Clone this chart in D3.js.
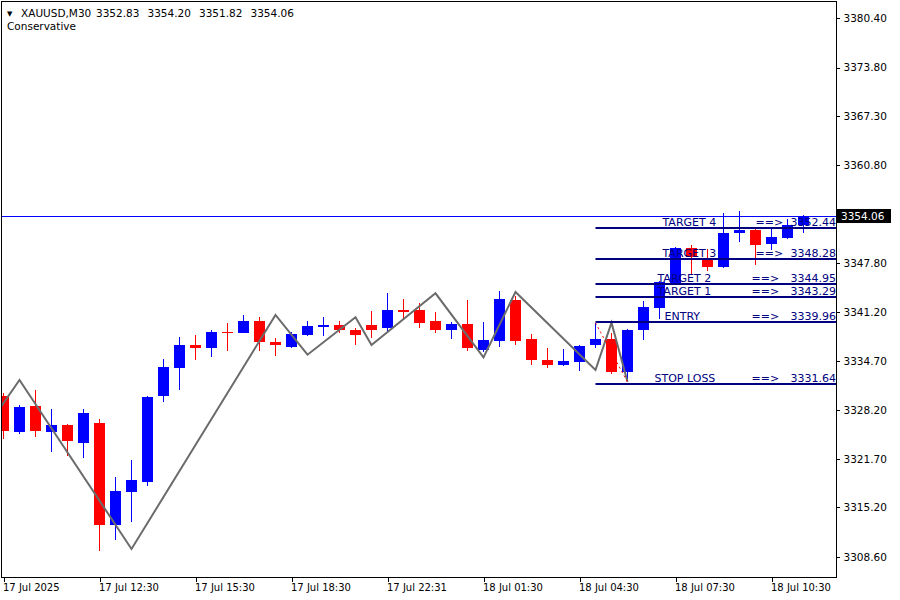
<!DOCTYPE html>
<html>
<head>
<meta charset="utf-8">
<script src="https://cdn.jsdelivr.net/npm/d3@7/dist/d3.min.js"></script>
<style>
  html, body { margin: 0; padding: 0; background: #ffffff; }
  svg { display: block; }
</style>
</head>
<body>
<svg id="chart" width="900" height="600"></svg>
<script>
// ---------------- DATA ----------------
const opens  = [3330.1,3325.3,3328.7,3325.3,3326.2,3323.8,3326.5,3312.8,3317.2,3318.6,
                3330.1,3333.8,3336.8,3336.5,3338.6,3338.5,3340.0,3337.2,3336.6,3338.2,
                3339.3,3339.5,3338.8,3339.5,3339.1,3341.5,3341.5,3340.0,3338.8,3339.6,
                3336.2,3337.4,3342.8,3337.6,3334.8,3334.2,3334.6,3336.8,3337.6,3333.2,
                3338.8,3341.8,3345.1,3349.8,3348.3,3347.2,3351.8,3352.2,3350.3,3351.1,
                3352.83];
const highs  = [3330.5,3328.8,3330.9,3328.3,3326.3,3328.3,3327.0,3319.3,3321.5,3330.1,
                3335.0,3337.9,3338.2,3338.8,3339.8,3340.8,3340.6,3337.8,3338.6,3340.0,
                3340.6,3340.0,3339.1,3341.4,3343.8,3343.0,3342.5,3341.2,3339.9,3342.8,
                3339.9,3344.0,3343.4,3338.3,3336.4,3336.3,3336.8,3339.8,3338.4,3339.0,
                3342.7,3345.4,3349.9,3350.1,3349.6,3354.4,3354.7,3352.3,3352.3,3353.6,
                3354.20];
const lows   = [3324.3,3325.0,3324.6,3322.6,3322.0,3321.8,3309.4,3310.8,3313.3,3318.0,
                3329.3,3330.9,3334.9,3335.2,3336.1,3338.4,3336.0,3335.4,3336.5,3338.0,
                3338.0,3338.5,3336.8,3337.8,3338.6,3340.2,3339.1,3338.4,3337.6,3336.0,
                3335.9,3336.6,3336.9,3334.2,3333.8,3334.1,3333.4,3336.5,3333.0,3332.0,
                3337.5,3340.3,3344.8,3346.2,3346.7,3347.1,3350.6,3347.5,3349.5,3351.0,
                3351.82];
const closes = [3325.4,3328.6,3325.4,3326.2,3324.0,3327.8,3312.8,3317.4,3318.9,3329.9,
                3333.9,3336.8,3336.5,3338.6,3338.5,3340.0,3337.2,3336.8,3338.3,3339.4,
                3339.5,3338.8,3338.2,3338.8,3341.5,3341.3,3339.8,3338.8,3339.6,3336.4,
                3337.5,3343.0,3337.4,3334.8,3334.2,3334.7,3336.7,3337.6,3333.2,3338.8,
                3341.9,3345.2,3349.8,3348.5,3347.2,3351.8,3352.2,3350.2,3351.2,3352.8,
                3354.06];

// zigzag indicator (bar index, price)
const zigzagIdx   = [-1, 1, 8, 17, 19, 22, 23, 27, 30, 32, 37, 38, 39];
const zigzagPrice = [3326.05, 3332.18, 3309.67, 3340.84, 3335.55, 3340.53, 3336.84,
                     3343.73, 3335.2, 3343.9, 3333.51, 3339.81, 3331.95];

// red dotted segment
const dotIdx   = [37, 39];
const dotPrice = [3339.8, 3331.9];

// trade levels
const levelNames  = ["TARGET 4", "TARGET 3", "TARGET 2", "TARGET 1", "ENTRY", "STOP LOSS"];
const levelValues = [3352.44, 3348.28, 3344.95, 3343.29, 3339.96, 3331.64];
const levelStartIdx = 37;

const currentPrice = 3354.06;

// axes
const yTicks = [3380.40, 3373.80, 3367.30, 3360.80, 3347.80, 3341.20, 3334.70,
                3328.20, 3321.70, 3315.20, 3308.60];
const xTickIdx = [0, 6, 12, 18, 24, 30, 36, 42, 48];
const xTickLabels = ["17 Jul 2025", "17 Jul 12:30", "17 Jul 15:30", "17 Jul 18:30",
                     "17 Jul 22:31", "18 Jul 01:30", "18 Jul 04:30", "18 Jul 07:30",
                     "18 Jul 10:30"];

const symbolText = "XAUUSD,M30";
const ohlcTexts = ["3352.83", "3354.20", "3351.82", "3354.06"];
const subtitleText = "Conservative";

// ---------------- LAYOUT ----------------
const plot = { left: 2, top: 2, right: 836, bottom: 577 };
const font = "'DejaVu Sans', Verdana, sans-serif";
const bull = "#0000ff", bear = "#ff0000";
const levelColor = "#000080";
// label x-offsets in px relative to the level line start [name, arrow]
const levelLabelOffsets = [[67, 160], [67, 160], [62, 156], [62, 156], [69, 156], [59, 156]];

const svg = d3.select("#chart");

const x = d3.scaleLinear().domain([0, 50]).range([3.5, 803.5]);
const y = d3.scaleLinear().domain([3308.6, 3380.4]).range([557, 18]);

svg.append("rect").attr("x", 0).attr("y", 0).attr("width", 900).attr("height", 600).attr("fill", "#fff");

svg.append("defs").append("clipPath").attr("id", "plotclip")
  .append("rect")
  .attr("x", plot.left).attr("y", plot.top)
  .attr("width", plot.right - plot.left).attr("height", plot.bottom - plot.top);

const g = svg.append("g").attr("clip-path", "url(#plotclip)");

// current price line
g.append("line")
  .attr("x1", plot.left).attr("x2", plot.right)
  .attr("y1", Math.round(y(currentPrice)) + 0.5).attr("y2", Math.round(y(currentPrice)) + 0.5)
  .attr("stroke", "#0000ff").attr("stroke-width", 1);

// candles
const candles = opens.map((o, i) => ({ i, o, h: highs[i], l: lows[i], c: closes[i] }));
const cg = g.append("g").attr("shape-rendering", "crispEdges");
cg.selectAll(".wick").data(candles).enter().append("rect")
  .attr("x", d => x(d.i) - 0.5)
  .attr("width", 1)
  .attr("y", d => Math.round(y(d.h)))
  .attr("height", d => Math.max(1, Math.round(y(d.l)) - Math.round(y(d.h))))
  .attr("fill", d => d.c >= d.o ? bull : bear);
cg.selectAll(".body").data(candles).enter().append("rect")
  .attr("x", d => x(d.i) - 5.5)
  .attr("width", 11)
  .attr("y", d => Math.round(y(Math.max(d.o, d.c))))
  .attr("height", d => Math.max(1, Math.round(y(Math.min(d.o, d.c))) - Math.round(y(Math.max(d.o, d.c)))))
  .attr("fill", d => d.c >= d.o ? bull : bear);

// zigzag
const zz = zigzagIdx.map((d, k) => [x(d), y(zigzagPrice[k])]);
g.append("path")
  .attr("d", d3.line()(zz))
  .attr("fill", "none").attr("stroke", "#6b6b6b").attr("stroke-width", 2)
  .attr("stroke-linejoin", "miter");

// red dotted line
const dl = dotIdx.map((d, k) => [x(d), y(dotPrice[k])]);
g.append("path")
  .attr("d", d3.line()(dl))
  .attr("fill", "none").attr("stroke", "#ff0000").attr("stroke-width", 1)
  .attr("stroke-dasharray", "2,3");

// trade levels
const lx0 = x(levelStartIdx);
levelValues.forEach((v, k) => {
  const ly = Math.round(y(v));
  g.append("line")
    .attr("x1", lx0).attr("x2", plot.right)
    .attr("y1", ly).attr("y2", ly)
    .attr("stroke", levelColor).attr("stroke-width", 2);
  g.append("text")
    .attr("x", lx0 + levelLabelOffsets[k][0]).attr("y", ly - 2)
    .attr("font-family", font).attr("font-size", 11).attr("fill", levelColor)
    .text(levelNames[k]);
  g.append("text")
    .attr("x", lx0 + levelLabelOffsets[k][1]).attr("y", ly - 2)
    .attr("font-family", font).attr("font-size", 11).attr("fill", levelColor)
    .text("==>");
  g.append("text")
    .attr("x", plot.right).attr("y", ly - 2)
    .attr("text-anchor", "end")
    .attr("font-family", font).attr("font-size", 11).attr("fill", levelColor)
    .text(v.toFixed(2));
});

// frame
svg.append("rect")
  .attr("x", plot.left - 0.5).attr("y", plot.top - 0.5)
  .attr("width", plot.right - plot.left + 0.5).attr("height", plot.bottom - plot.top + 0.5)
  .attr("fill", "none").attr("stroke", "#000").attr("stroke-width", 1)
  .attr("shape-rendering", "crispEdges");

// right axis
const yAxis = d3.axisRight(y).tickValues(yTicks).tickSize(3).tickPadding(4)
  .tickFormat(d => d.toFixed(2));
const ya = svg.append("g").attr("transform", `translate(${plot.right + 0.5},0)`).call(yAxis);
ya.select(".domain").remove();
ya.selectAll("text").attr("font-family", font).attr("font-size", 10.5).attr("fill", "#000");
ya.selectAll("line").attr("stroke", "#000").attr("shape-rendering", "crispEdges");

// current price box
const cpY = Math.round(y(currentPrice));
svg.append("rect").attr("x", 837).attr("y", cpY - 7).attr("width", 54).attr("height", 14).attr("fill", "#000");
svg.append("text").attr("x", 841).attr("y", cpY).attr("dy", "0.35em")
  .attr("font-family", font).attr("font-size", 10.5).attr("fill", "#fff")
  .text(currentPrice.toFixed(2));

// bottom axis
const xAxis = d3.axisBottom(x).tickValues(xTickIdx).tickSize(4).tickPadding(2)
  .tickFormat((d, k) => xTickLabels[k]);
const xa = svg.append("g").attr("transform", `translate(0,${plot.bottom + 0.5})`).call(xAxis);
xa.select(".domain").remove();
xa.selectAll("text").attr("font-family", font).attr("font-size", 10).attr("fill", "#000")
  .attr("text-anchor", "start").attr("x", -1);
xa.selectAll("line").attr("stroke", "#000").attr("shape-rendering", "crispEdges");

// title
svg.append("text").attr("x", 7).attr("y", 16)
  .attr("font-family", font).attr("font-size", 7).attr("fill", "#000").text("▼");
svg.append("text").attr("x", 21).attr("y", 17)
  .attr("font-family", font).attr("font-size", 10.5).attr("fill", "#000").text(symbolText);
const ohlcX = [96, 147.5, 199, 250.5];
ohlcTexts.forEach((t, k) => {
  svg.append("text").attr("x", ohlcX[k]).attr("y", 17)
    .attr("font-family", font).attr("font-size", 10.5).attr("fill", "#000").text(t);
});
svg.append("text").attr("x", 7).attr("y", 30)
  .attr("font-family", font).attr("font-size", 10.5).attr("fill", "#000").text(subtitleText);
</script>
</body>
</html>
